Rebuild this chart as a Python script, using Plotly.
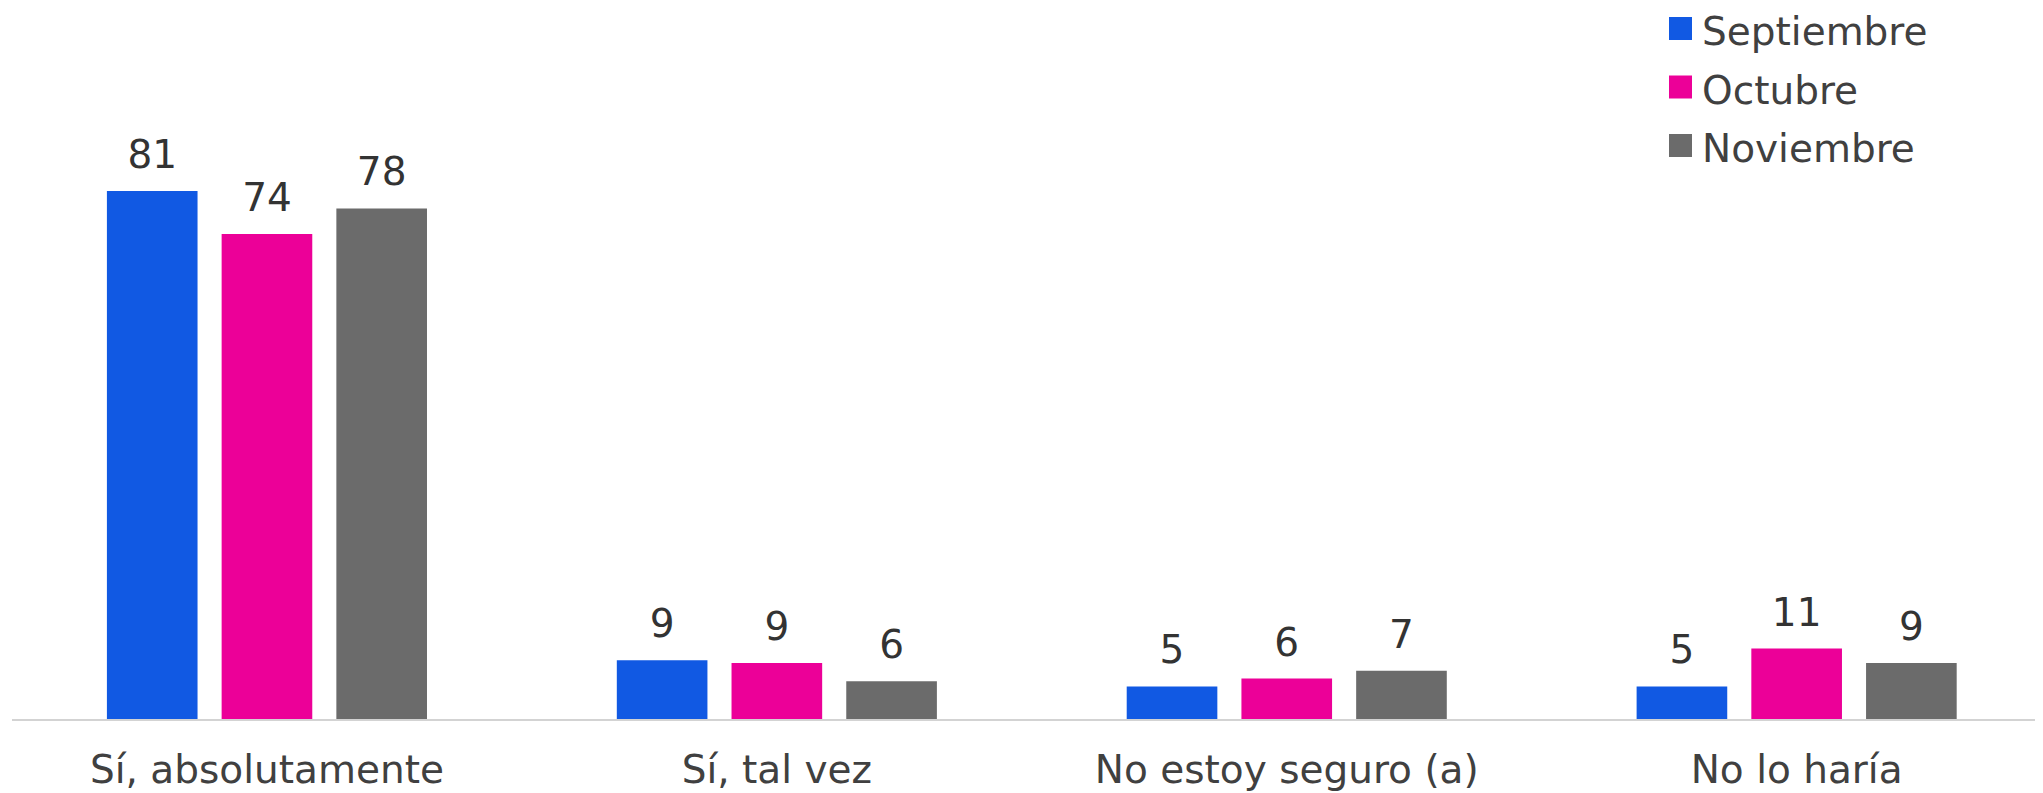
import plotly.graph_objects as go

categories = ["Sí, absolutamente", "Sí, tal vez", "No estoy seguro (a)", "No lo haría"]
series_names = ["Septiembre", "Octubre", "Noviembre"]
septiembre = [81.0, 9.0, 5.0, 5.0]
octubre = [74.4, 8.6, 6.2, 10.8]
noviembre = [78.3, 5.8, 7.4, 8.6]
colors = ["#1159E3", "#EC0098", "#6B6B6B"]

W, H = 2043, 793
OFF = 8  # page body margin offsets the figure by 8px in the screenshot
ML, MR, MT, MB = 12 - OFF, 0, 0, H - (719 - OFF)
FONT = "DejaVu Sans"
TXT = "#404040"
PXU = 6.52            # pixels per unit on the value axis
LABEL_PAD = 11 / PXU  # gap between bar top and its value label (in value units)

fig = go.Figure()
for i, (name, vals, col) in enumerate(zip(series_names, [septiembre, octubre, noviembre], colors)):
    fig.add_trace(go.Bar(
        x=categories, y=vals, name=name, offsetgroup=str(i),
        marker=dict(color=col, line=dict(width=0)),
        showlegend=False, hoverinfo="x+y+name",
    ))
    # transparent spacer on top of each bar that carries the value label
    fig.add_trace(go.Bar(
        x=categories, y=[LABEL_PAD] * len(vals), base=vals, offsetgroup=str(i),
        customdata=vals, marker=dict(color="rgba(0,0,0,0)", line=dict(width=0)),
        texttemplate="%{customdata:.0f}", textposition="outside",
        textfont=dict(family=FONT, size=39, color="#333333"),
        cliponaxis=False, showlegend=False, hoverinfo="skip",
    ))

# custom legend (larger squares than the built-in legend allows)
pw, ph = W - ML - MR, H - MT - MB
def px2x(px):
    return (px - OFF - ML) / pw
def py2y(py):
    return 1 - (py - OFF - MT) / ph
shapes, annos = [], []
for i, (name, col) in enumerate(zip(series_names, colors)):
    cy = 28.5 + i * 58.5
    shapes.append(dict(type="rect", xref="paper", yref="paper",
                       x0=px2x(1669), x1=px2x(1692), y0=py2y(cy - 11.5), y1=py2y(cy + 11.5),
                       fillcolor=col, line=dict(width=0)))
    annos.append(dict(xref="paper", yref="paper", x=px2x(1701), y=py2y(cy + 3),
                      xanchor="left", yanchor="middle", showarrow=False, text=name,
                      borderpad=0, font=dict(family=FONT, size=39, color=TXT)))

fig.update_layout(
    width=W, height=H,
    margin=dict(l=ML, r=MR, t=MT, b=MB),
    barmode="group", bargap=0.325, bargroupgap=0.21,
    plot_bgcolor="white", paper_bgcolor="white",
    shapes=shapes, annotations=annos,
    xaxis=dict(showline=True, linecolor="#D3D3D3", linewidth=2, ticks="",
               tickfont=dict(family=FONT, size=39, color=TXT), showgrid=False,
               ticklabelstandoff=15,
               automargin=False, range=[-0.5, -0.5 + pw / 509.9]),
    yaxis=dict(range=[0, ph / PXU], visible=False, showgrid=False, automargin=False),
)
fig.write_html("out.html")
